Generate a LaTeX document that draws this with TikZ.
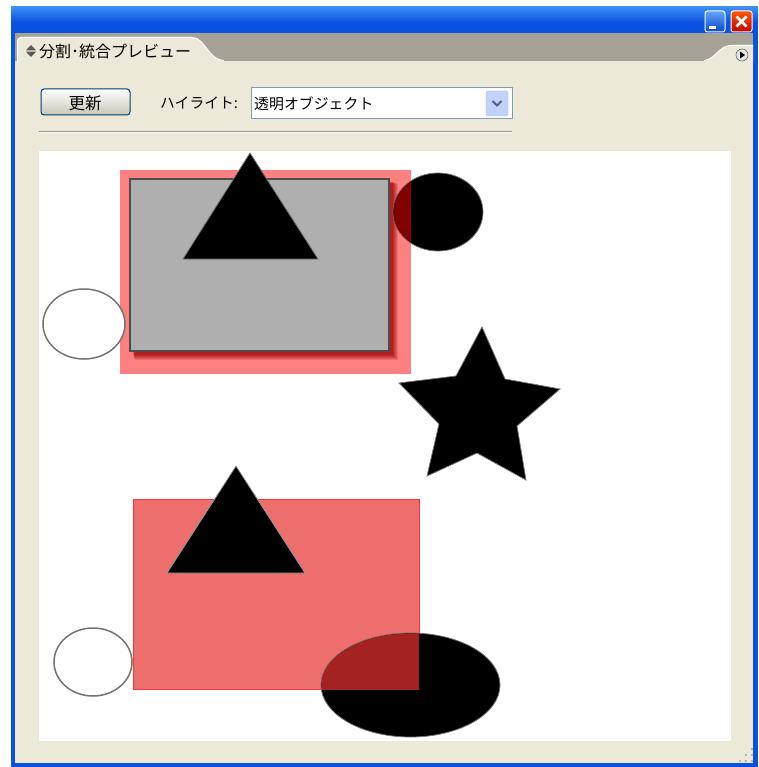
\documentclass[tikz,border=0pt]{standalone}
\usepackage{fontspec}
\newfontfamily\jp{Noto Sans CJK JP}
\usetikzlibrary{shapes.geometric}
\definecolor{xpblue}{HTML}{0A52DD}
\definecolor{xpbluetop}{HTML}{3C8DF8}
\definecolor{panel}{HTML}{ECE9D8}
\definecolor{tabgray}{HTML}{A6A396}
\definecolor{pinkr}{HTML}{FF8080}
\definecolor{redr}{HTML}{EE6E6E}
\definecolor{grayr}{HTML}{AFAFAF}
\definecolor{btnborder}{HTML}{003C74}
\definecolor{comboborder}{HTML}{7F9DB9}
\definecolor{arrowfill}{HTML}{C1D3FB}
\definecolor{arrowborder}{HTML}{AABEF0}
\definecolor{chevron}{HTML}{4D6185}
\definecolor{darkmaroon}{HTML}{800000}
\definecolor{overlapred}{HTML}{A52222}
\tikzset{
  jptext/.style={font=\jp\fontsize{13}{13}\selectfont, inner sep=0pt, anchor=west, text=black},
  blackshape/.style={fill=black, draw=black!55, line width=0.8pt, line join=miter},
  outlineell/.style={draw=black!55, line width=1.5pt, fill=white},
}
\begin{document}
\begin{tikzpicture}[x=1pt,y=-1pt]
\useasboundingbox (0,0) rectangle (758,767);
\fill[white] (0,0) rectangle (758,767);
% window frame
\fill[xpblue] (11,7) rectangle (758,767);
\shade[top color=xpbluetop, bottom color=xpblue] (11,7) rectangle (758,22);
\fill[panel] (15,33) rectangle (753,763);
% tab bar
\fill[tabgray] (15,33) rectangle (753,61);
\fill[panel] (17,61) -- (17,41) arc[start angle=180,end angle=270,radius=4] -- (192,37)
  .. controls (205,37) and (208,60) .. (224,61) -- cycle;
\draw[white, line width=1pt] (17.5,61) -- (17.5,41) arc[start angle=180,end angle=270,radius=3.5] -- (192,37.5)
  .. controls (205,37.5) and (208,60) .. (224,60.5);
\fill[panel] (704,61) .. controls (716,60) and (718,45) .. (732,45) -- (753,45) -- (753,61) -- cycle;
\draw[white, line width=1pt] (704,60.5) .. controls (716,59.5) and (718,45.5) .. (732,45.5) -- (753,45.5);
% tab icon
\fill[black!65] (31,45) -- (36,50.3) -- (26,50.3) -- cycle;
\fill[black!65] (31,57) -- (36,51.7) -- (26,51.7) -- cycle;
\node[jptext, font=\jp\fontsize{16}{16}\selectfont] (title) at (39,51.5) {分割･統合プレビュー};
% menu button
\node[circle, draw=black!60, fill=white!90!black, minimum size=12pt, inner sep=0pt, line width=0.6pt] (menu) at (742,55) {};
\fill[black] (740,51.5) -- (745,55) -- (740,58.5) -- cycle;
% title bar buttons
\node[draw=white, line width=1pt, rounded corners=2.5pt, top color=xpbluetop!80!white, bottom color=xpblue!90!black, minimum width=20pt, minimum height=21pt, inner sep=0pt] (minbtn) at (715,21.5) {};
\fill[white] (709,26) rectangle (716,29);
\node[draw=white, line width=1pt, rounded corners=2.5pt, top color=orange!70!red, bottom color=red!75!black, minimum width=21pt, minimum height=21pt, inner sep=0pt] (closebtn) at (741.5,21.5) {};
\draw[white, line width=2.5pt] (736.5,16.5) -- (746.5,26.5) (746.5,16.5) -- (736.5,26.5);
% update button
\node[draw=btnborder, line width=1pt, rounded corners=3pt,
  top color=white, bottom color=panel!85!black, minimum width=89pt, minimum height=26pt, inner sep=0pt] (update) at (85.5,102) {};
\node[font=\jp\fontsize{16.5}{16.5}\selectfont, inner sep=0pt] (updateText) at (85,103.5) {更新};
\node[jptext, font=\jp\fontsize{14.8}{14.8}\selectfont] (hl) at (160,103) {ハイライト:};
% dropdown
\node[draw=comboborder, line width=1pt, fill=white, minimum width=261pt, minimum height=31pt, inner sep=0pt] (combo) at (381.5,103.5) {};
\node[jptext, font=\jp\fontsize{14.9}{14.9}\selectfont] (comboText) at (254,103.5) {透明オブジェクト};
\node[fill=arrowfill, draw=arrowborder, rounded corners=1.5pt, minimum width=22pt, minimum height=25pt, inner sep=0pt] (arrowbtn) at (497,103.5) {};
\draw[chevron, line width=2pt] (492.5,101) -- (497,105.5) -- (501.5,101);
% separator
\draw[black!35!panel, line width=1pt] (39,131.5) -- (512,131.5);
\draw[white, line width=1pt] (39,132.5) -- (512,132.5);
% canvas
\fill[white] (39,151) rectangle (731,741);
% top group
\fill[pinkr] (120,170) rectangle (411,374);
\foreach \d/\o in {9/0.15,8/0.15,7/0.2,6/0.2,5/0.25,4/0.25}{
  \fill[red!60!black, opacity=\o] (132+\d*0.3,181+\d*0.3) rectangle (389+\d,351+\d);
}
\fill[grayr, draw=black!70, line width=2pt] (130,179) rectangle (389,351);
\draw[blackshape] (250,153) -- (318,259) -- (183,259) -- cycle;
\fill[black, draw=black!55, line width=0.8pt] (438,212) ellipse[x radius=45, y radius=39];
\begin{scope}
  \clip (120,170) rectangle (411,374);
  \fill[darkmaroon] (438,212) ellipse[x radius=44.6, y radius=38.6];
\end{scope}
\draw[outlineell] (84,324) ellipse[x radius=41, y radius=35];
\draw[blackshape] (482,327) -- (505,379) -- (560,389) -- (517,426) -- (526,480) -- (477,453) -- (427,476) -- (439,424) -- (399,383) -- (456,376) -- cycle;
% bottom group
\fill[redr, draw=red!50!redr, line width=0.8pt] (133,499) rectangle (419,689);
\draw[blackshape, draw=black!40] (236,466) -- (305,573) -- (167,573) -- cycle;
\draw[outlineell] (93,662) ellipse[x radius=39, y radius=34];
\fill[black, draw=black!55, line width=0.8pt] (410.5,685) ellipse[x radius=89.5, y radius=52];
\begin{scope}
  \clip (133,499) rectangle (419,689);
  \fill[overlapred] (410.5,685) ellipse[x radius=89.1, y radius=51.6];
\end{scope}
% resize grip
\foreach \p in {(752,749),(746,755),(752,755),(740,761),(746,761),(752,761)}{
  \fill[black!30] \p ++(-1.2,-1.2) rectangle ++(2.4,2.4);
}
\end{tikzpicture}
\end{document}
